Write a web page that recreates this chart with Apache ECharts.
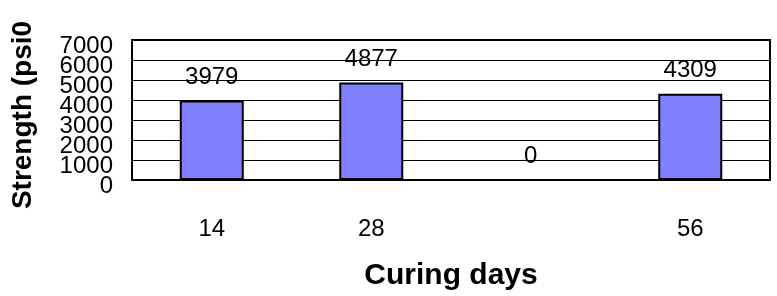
<!DOCTYPE html>
<html>
<head>
<meta charset="utf-8">
<script src="https://cdn.jsdelivr.net/npm/echarts@6/dist/echarts.min.js"></script>
<style>
  html, body { margin: 0; padding: 0; background: #fff; }
  #chart { width: 777px; height: 296px; }
</style>
</head>
<body>
<div id="chart"></div>
<script>
// curing days and measured strength
const categories = ['14', '28', '', '56'];
const strength = [3979, 4877, 0, 4309];
const yMax = 7000;
const yStep = 1000;

const chart = echarts.init(document.getElementById('chart'));
const font = 'Liberation Sans, Arial, sans-serif';

// the tick labels are taller than the gridline spacing, so ECharts would drop
// some of them; split them over two stacked axes (even / odd steps)
function tickAxis(parity) {
    return {
        type: 'value',
        min: 0,
        max: yMax,
        interval: yStep,
        position: 'left',
        axisLine: { show: false },
        axisTick: { show: false },
        splitLine: { show: false },
        axisLabel: {
            margin: 19,
            showMinLabel: true,
            showMaxLabel: true,
            formatter: (v) => (Math.round(v / yStep) % 2 === parity ? '{v|' + v + '}' : ''),
            rich: {
                v: {
                    fontFamily: font,
                    fontSize: 24,
                    color: '#000',
                    padding: [13, 0, 0, 0],
                },
            },
        },
    };
}

const evenAxis = tickAxis(0);
evenAxis.name = 'Strength (psi0';
evenAxis.nameLocation = 'middle';
evenAxis.nameGap = 95;
evenAxis.nameTextStyle = {
    fontFamily: font,
    fontSize: 28,
    fontWeight: 'bold',
    color: '#000',
    padding: [0, 10, 0, 0],
};
evenAxis.splitLine = { show: true, lineStyle: { color: '#000', width: 1 } };

const options = {
    animation: false,
    backgroundColor: '#fff',
    grid: {
        left: 132,
        right: 7,
        top: 40,
        bottom: 116,
        show: true,
        borderColor: '#000',
        borderWidth: 2,
    },
    xAxis: {
        type: 'category',
        data: categories,
        name: 'Curing days',
        nameLocation: 'middle',
        nameGap: 81,
        nameTextStyle: {
            fontFamily: font,
            fontSize: 30,
            fontWeight: 'bold',
            color: '#000',
        },
        axisLine: { lineStyle: { color: '#000', width: 2 } },
        axisTick: { show: false },
        axisLabel: {
            margin: 37,
            fontFamily: font,
            fontSize: 24,
            color: '#000',
        },
    },
    yAxis: [evenAxis, tickAxis(1)],
    series: [
        {
            type: 'bar',
            data: strength,
            barWidth: 64,
            itemStyle: {
                color: '#8080ff',
                borderColor: '#000',
                borderWidth: 2,
            },
            label: {
                show: true,
                position: 'top',
                distance: 11,
                fontFamily: font,
                fontSize: 24,
                color: '#000',
            },
        },
    ],
};

chart.setOption(options);
</script>
</body>
</html>
